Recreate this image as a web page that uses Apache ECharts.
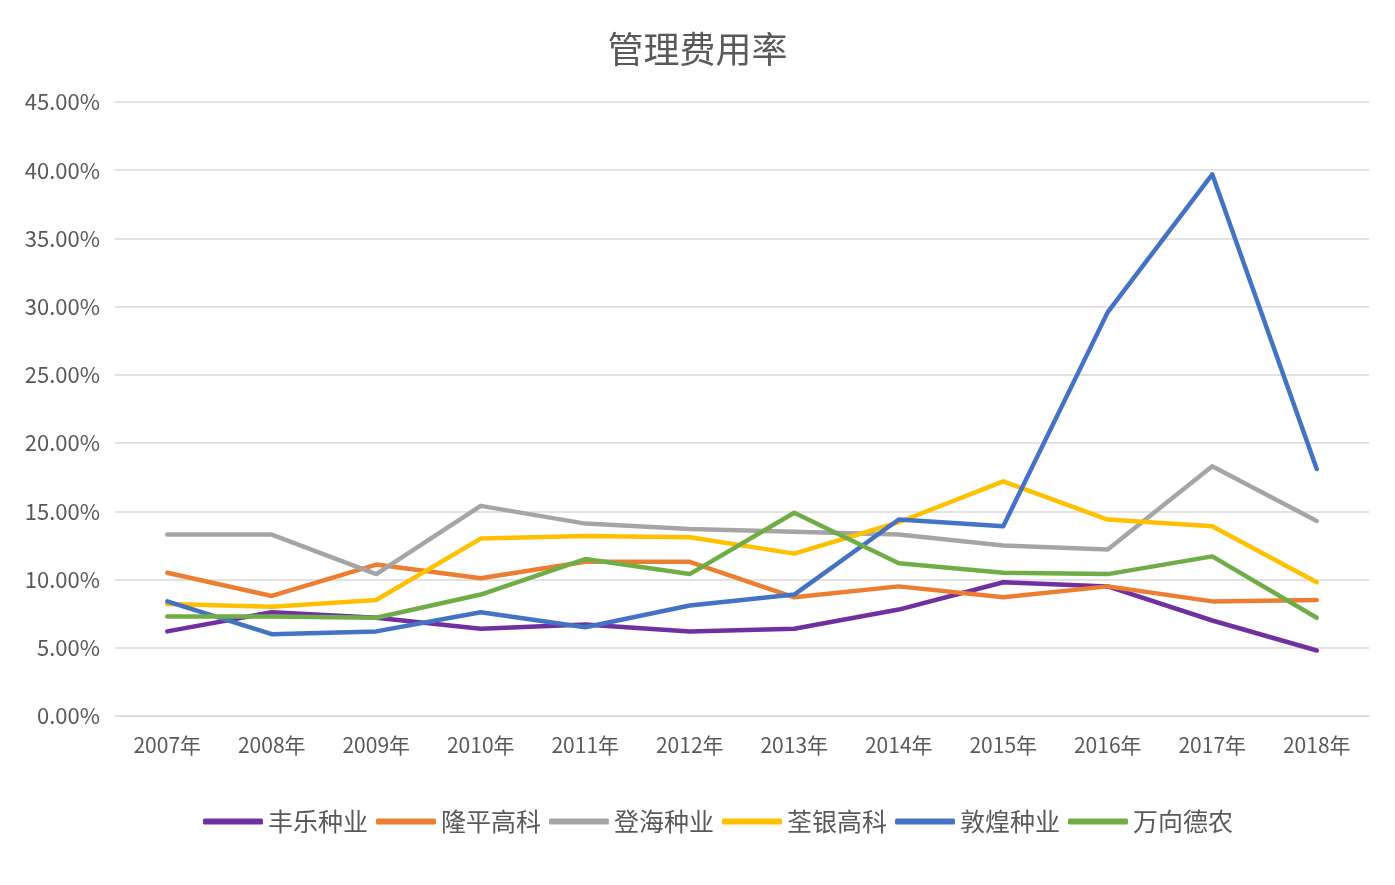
<!DOCTYPE html>
<html>
<head>
<meta charset="utf-8">
<script src="https://cdn.jsdelivr.net/npm/echarts@6/dist/echarts.min.js"></script>
<style>html,body{margin:0;padding:0;background:#fff;}#c{width:1395px;height:885px;}</style>
</head>
<body>
<div id="c"></div>
<script>
const categories = ['2007年','2008年','2009年','2010年','2011年','2012年','2013年','2014年','2015年','2016年','2017年','2018年'];
const fengle   = [6.2, 7.6, 7.2, 6.4, 6.7, 6.2, 6.4, 7.8, 9.8, 9.5, 7.0, 4.8];
const longping = [10.5, 8.8, 11.1, 10.1, 11.3, 11.3, 8.7, 9.5, 8.7, 9.5, 8.4, 8.5];
const denghai  = [13.3, 13.3, 10.4, 15.4, 14.1, 13.7, 13.5, 13.3, 12.5, 12.2, 18.3, 14.3];
const quanyin  = [8.2, 8.0, 8.5, 13.0, 13.2, 13.1, 11.9, 14.2, 17.2, 14.4, 13.9, 9.8];
const dunhuang = [8.4, 6.0, 6.2, 7.6, 6.5, 8.1, 8.9, 14.4, 13.9, 29.6, 39.7, 18.1];
const wanxiang = [7.3, 7.3, 7.2, 8.9, 11.5, 10.4, 14.9, 11.2, 10.5, 10.4, 11.7, 7.2];
const seriesNames = ['丰乐种业','隆平高科','登海种业','荃银高科','敦煌种业','万向德农'];
const seriesData = [fengle, longping, denghai, quanyin, dunhuang, wanxiang];
const colors = ['#7030A0','#ED7D31','#A5A5A5','#FFC000','#4472C4','#70AD47'];

const chart = echarts.init(document.getElementById('c'));
const font = '"Noto Sans CJK SC", "Noto Sans", sans-serif';
chart.setOption({
  backgroundColor: '#ffffff',
  color: colors,
  title: {
    text: '管理费用率',
    left: 'center', top: 26,
    textStyle: { fontSize: 36, fontWeight: 'normal', color: '#595959', fontFamily: font }
  },
  legend: {
    top: 804,
    left: 198,
    itemWidth: 60, itemHeight: 6,
    itemGap: 8,
    icon: 'roundRect',
    textStyle: { fontSize: 25, color: '#595959', fontFamily: font },
    data: seriesNames
  },
  grid: { left: 115, right: 26, top: 102, bottom: 169 },
  xAxis: {
    type: 'category',
    data: categories,
    boundaryGap: true,
    axisLine: { lineStyle: { color: '#D9D9D9', width: 1 } },
    axisTick: { show: false },
    axisLabel: { fontSize: 21, color: '#595959', margin: 19, fontFamily: font }
  },
  yAxis: {
    type: 'value',
    min: 0, max: 45, interval: 5,
    axisLine: { show: false },
    axisTick: { show: false },
    splitLine: { lineStyle: { color: '#D9D9D9', width: 1.5 } },
    axisLabel: { fontSize: 22, color: '#595959', margin: 15, fontFamily: font,
      formatter: v => v.toFixed(2) + '%' }
  },
  series: seriesNames.map((n, i) => ({
    name: n,
    type: 'line',
    data: seriesData[i],
    symbol: 'none',
    lineStyle: { width: 4.5, color: colors[i], cap: 'round', join: 'round' },
    itemStyle: { color: colors[i] }
  }))
});
</script>
</body>
</html>
